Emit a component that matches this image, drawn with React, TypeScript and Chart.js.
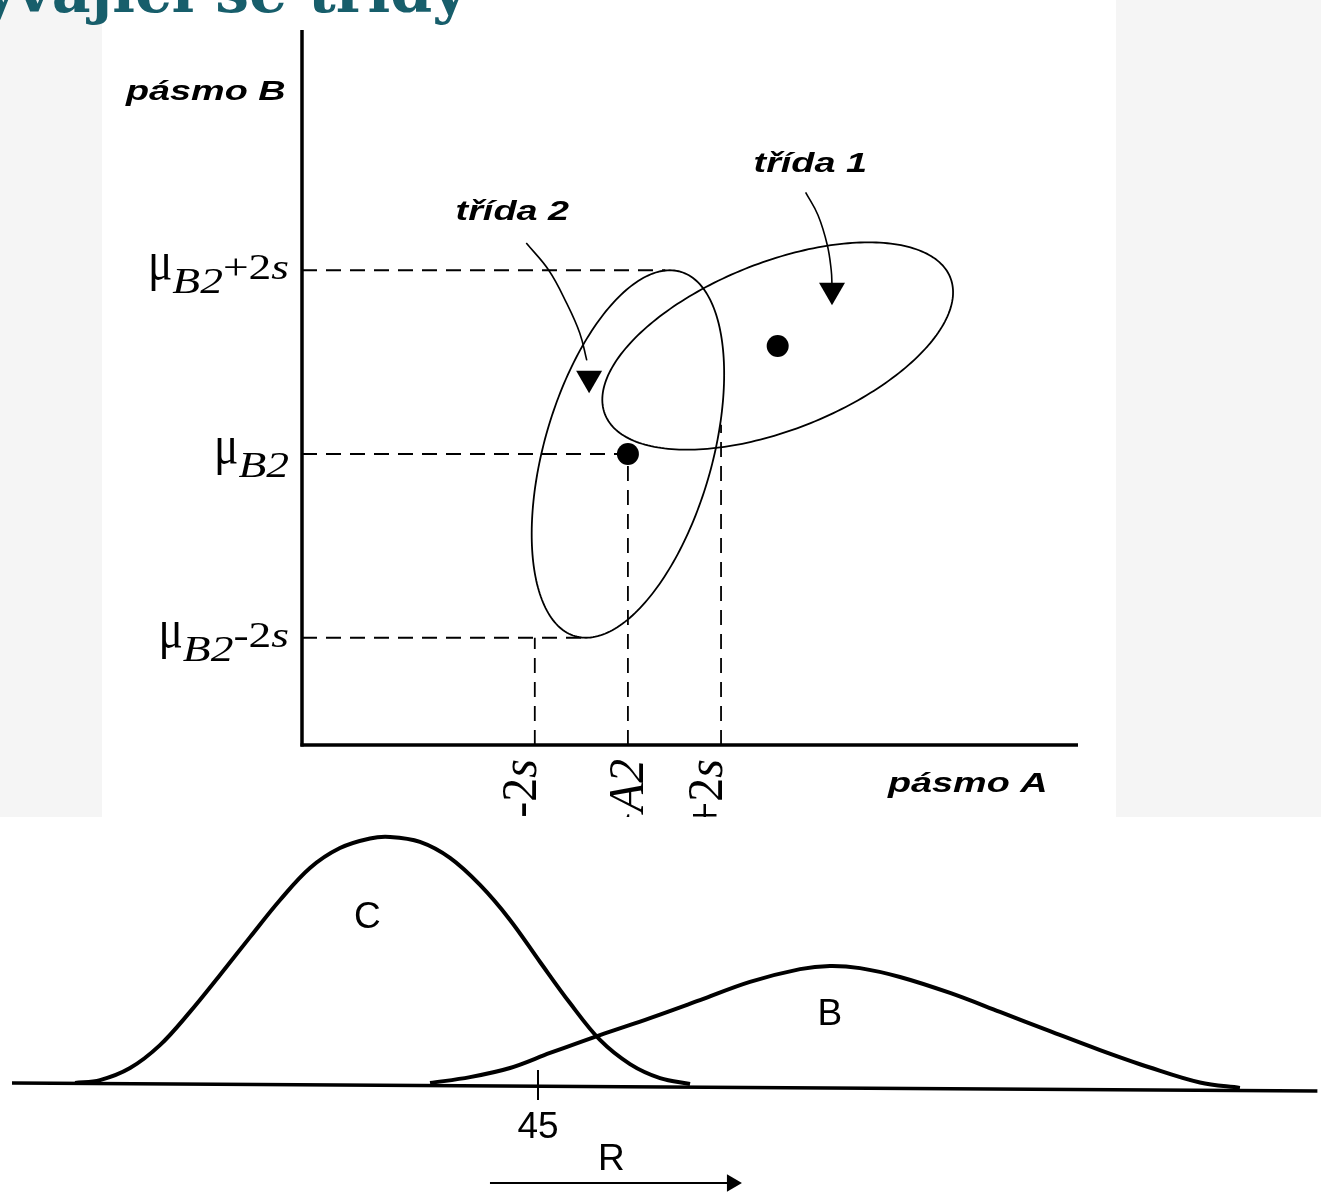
import React, { useEffect, useRef } from "react";
import { Chart, registerables } from "chart.js";

Chart.register(...registerables);

// ================= TEXTS =================
const TITLE = "Překrývající se třídy";
const AXIS_A_LABEL = "pásmo A";
const AXIS_B_LABEL = "pásmo B";
const CLASS_LABELS = ["třída 1", "třída 2"];

// ================= TOP DIAGRAM (feature space, axis units) =================
const AXIS_A_MAX = 100;
const AXIS_B_MAX = 100;

// statistics of class 2
const MU_A2 = 42;
const S_A2 = 6;
const MU_B2 = 40.7;
const S_B2 = 12.85;

// class means: [třída 1, třída 2]
const meanA = [61.3, MU_A2];
const meanB = [55.8, MU_B2];

// ellipse outlines: centre, half-width, half-height, x-shift of the topmost point
const ellipseHalfWidth = [22.6, 12.4];
const ellipseHalfHeight = [14.5, 2 * S_B2];
const ellipseTopShift = [11.7, 5.4];

// guide-line ends (where the dashed lines stop)
const guideEndA = [46.8, MU_A2, 37.1]; // for +2s, mu, -2s of band B
const guideStartB = [MU_B2 - 2 * S_B2, MU_B2, 44.8]; // for -2s, mu, +2s of band A

// label arrows (curve points) and arrow heads
const arrow1A = [64.9, 66.5, 67.7, 68.2, 68.3];
const arrow1B = [77.3, 74.1, 69.9, 66.4, 64.3];
const arrow2A = [28.9, 31.8, 34.1, 35.8, 36.7];
const arrow2B = [70.2, 66.4, 61.8, 57.6, 53.8];
const arrowHeadA = [68.3, 37.0];
const arrowHeadB = [63.6, 51.3];

// label anchors
const classLabelA = [65.5, 27.1];
const classLabelB = [80.1, 73.4];
const axisBLabelPos = [-12.4, 90.2];
const axisALabelPos = [85.8, -6.6];

// ================= BOTTOM DIAGRAM (histograms over R) =================
const R_TICK = 45;
const cR = [6.45, 8.53, 11.03, 13.52, 16.02, 18.52, 21.02, 23.52, 26.01, 28.51, 31.01, 32.68, 35.17, 37.67, 40.17, 42.67, 45.17, 47.66, 50.16, 52.66, 55.16, 57.66];
const cP = [0, 0.012, 0.061, 0.154, 0.289, 0.439, 0.593, 0.744, 0.874, 0.955, 0.994, 1.0, 0.98, 0.915, 0.805, 0.663, 0.492, 0.325, 0.175, 0.077, 0.02, -0.004];
const bR = [36.01, 39.34, 42.67, 46.0, 50.16, 54.33, 58.49, 62.65, 66.82, 69.31, 71.81, 75.14, 79.31, 83.47, 87.63, 91.8, 95.96, 100.12, 103.45];
const bP = [0, 0.024, 0.061, 0.122, 0.195, 0.264, 0.337, 0.411, 0.463, 0.476, 0.467, 0.431, 0.366, 0.289, 0.211, 0.134, 0.063, 0.002, -0.02];
const baselineR = [1.2, 109.9];
const baselineP = [0, -0.0325];
const rArrowR = [41.0, 61.2];
const rArrowP = -0.4065;
const curveLabels = ["C", "B"];
const curveLabelR = [30.8, 69.3];
const curveLabelP = [0.67, 0.276];
const tickLabelP = -0.183;
const rLabelPos = [51.1, -0.313];

// ================= helpers =================
type Seg = { t: string; font: string; dy: number; sy?: number };

function drawRich(ctx: CanvasRenderingContext2D, segs: Seg[], sx: number, sy: number) {
  ctx.save();
  ctx.scale(sx, sy);
  ctx.textAlign = "left";
  ctx.textBaseline = "alphabetic";
  const widths = segs.map((s) => {
    ctx.font = s.font;
    return ctx.measureText(s.t).width;
  });
  let xx = -widths.reduce((a, b) => a + b, 0);
  segs.forEach((s, i) => {
    ctx.font = s.font;
    ctx.save();
    ctx.translate(xx, s.dy / sy);
    if (s.sy) ctx.scale(1, s.sy);
    ctx.fillText(s.t, 0, 0);
    ctx.restore();
    xx += widths[i];
  });
  ctx.restore();
}

function drawStretched(ctx: CanvasRenderingContext2D, text: string, cx: number, base: number, font: string, k: number) {
  ctx.save();
  ctx.translate(cx, base);
  ctx.scale(k, 1);
  ctx.font = font;
  ctx.textAlign = "center";
  ctx.textBaseline = "alphabetic";
  ctx.fillText(text, 0, 0);
  ctx.restore();
}

const SERIF = '"Liberation Serif", "Times New Roman", serif';
const SANS = '"Liberation Sans", Arial, sans-serif';
const STRETCH = 1.35;

function tickSegs(letter: string, op: string, size: number): Seg[] {
  const segs: Seg[] = [
    { t: "μ", font: `${size}px ${SERIF}`, dy: 0, sy: 1.55 },
    { t: letter + "2", font: `italic ${size}px ${SERIF}`, dy: 14 },
  ];
  if (op) {
    segs.push({ t: op + "2", font: `${size}px ${SERIF}`, dy: 0 });
    segs.push({ t: "s", font: `italic ${size}px ${SERIF}`, dy: 0 });
  }
  return segs;
}

const topPlugin = {
  id: "topDecor",
  beforeDatasetsDraw(chart: any) {
    const { ctx } = chart;
    const x = chart.scales.x;
    const y = chart.scales.y;
    ctx.save();
    ctx.strokeStyle = "#000";
    ctx.lineWidth = 1.8;
    for (let i = 0; i < 2; i++) {
      const H = ellipseHalfHeight[i];
      const B = ellipseTopShift[i];
      const A = Math.sqrt(ellipseHalfWidth[i] ** 2 - B * B);
      ctx.beginPath();
      for (let k = 0; k <= 240; k++) {
        const t = (k / 240) * 2 * Math.PI;
        const px = x.getPixelForValue(meanA[i] + A * Math.cos(t) + B * Math.sin(t));
        const py = y.getPixelForValue(meanB[i] + H * Math.sin(t));
        if (k === 0) ctx.moveTo(px, py);
        else ctx.lineTo(px, py);
      }
      ctx.closePath();
      ctx.stroke();
    }
    ctx.restore();
  },
  afterDatasetsDraw(chart: any) {
    const { ctx } = chart;
    const x = chart.scales.x;
    const y = chart.scales.y;
    ctx.save();
    ctx.fillStyle = "#000";
    // y tick labels (band B)
    const yVals = [MU_B2 + 2 * S_B2, MU_B2, MU_B2 - 2 * S_B2];
    const ops = ["+", "", "-"];
    const axX = x.getPixelForValue(0);
    yVals.forEach((v, i) => {
      ctx.save();
      ctx.translate(axX - 13, y.getPixelForValue(v) + 9);
      drawRich(ctx, tickSegs("B", ops[i], 35), 1.3, 1);
      ctx.restore();
    });
    // x tick labels (band A), rotated
    const xVals = [MU_A2 - 2 * S_A2, MU_A2, MU_A2 + 2 * S_A2];
    const xOps = ["-", "", "+"];
    const axY = y.getPixelForValue(0);
    xVals.forEach((v, i) => {
      ctx.save();
      ctx.translate(x.getPixelForValue(v) + 1, axY + 14);
      ctx.rotate(-Math.PI / 2);
      drawRich(ctx, tickSegs("A", xOps[i], 48), 1, 1.05);
      ctx.restore();
    });
    // axis names
    const labFont = `italic bold 28px ${SANS}`;
    drawStretched(ctx, AXIS_B_LABEL, x.getPixelForValue(axisBLabelPos[0]), y.getPixelForValue(axisBLabelPos[1]), labFont, STRETCH);
    drawStretched(ctx, AXIS_A_LABEL, x.getPixelForValue(axisALabelPos[0]), y.getPixelForValue(axisALabelPos[1]), labFont, STRETCH);
    CLASS_LABELS.forEach((t, i) => {
      drawStretched(ctx, t, x.getPixelForValue(classLabelA[i]), y.getPixelForValue(classLabelB[i]), labFont, STRETCH);
    });
    ctx.restore();
  },
};

const bottomPlugin = {
  id: "bottomDecor",
  afterDatasetsDraw(chart: any) {
    const { ctx } = chart;
    const x = chart.scales.x;
    const y = chart.scales.y;
    ctx.save();
    ctx.fillStyle = "#000";
    ctx.font = `37px ${SANS}`;
    ctx.textAlign = "center";
    ctx.textBaseline = "middle";
    curveLabels.forEach((t, i) => ctx.fillText(t, x.getPixelForValue(curveLabelR[i]), y.getPixelForValue(curveLabelP[i])));
    ctx.fillText(String(R_TICK), x.getPixelForValue(R_TICK), y.getPixelForValue(tickLabelP));
    ctx.fillText("R", x.getPixelForValue(rLabelPos[0]), y.getPixelForValue(rLabelPos[1]));
    ctx.restore();
  },
};

const pts = (xs: number[], ys: number[]) => xs.map((v, i) => ({ x: v, y: ys[i] }));

const lineDs = (label: string, data: any[], extra: any = {}) => ({
  label,
  data,
  showLine: true,
  borderColor: "#000",
  backgroundColor: "#000",
  borderWidth: 2,
  pointRadius: 0,
  fill: false,
  ...extra,
});

const baseOptions = (xMin: number, xMax: number, yMin: number, yMax: number) => ({
  animation: false,
  responsive: false,
  events: [],
  layout: { padding: 0, autoPadding: false },
  plugins: { legend: { display: false }, tooltip: { enabled: false }, title: { display: false } },
  scales: {
    x: { type: "linear", display: false, min: xMin, max: xMax },
    y: { type: "linear", display: false, min: yMin, max: yMax },
  },
});

export default function App() {
  const topRef = useRef<HTMLCanvasElement>(null);
  const botRef = useRef<HTMLCanvasElement>(null);

  useEffect(() => {
    const dash = { borderDash: [15, 9], borderWidth: 1.8 };
    const top = new Chart(topRef.current as HTMLCanvasElement, {
      type: "scatter",
      data: {
        datasets: [
          lineDs("osa B", [{ x: 0, y: -0.2 }, { x: 0, y: AXIS_B_MAX }], { borderWidth: 3.5 }),
          lineDs("osa A", [{ x: -0.2, y: 0 }, { x: AXIS_A_MAX, y: 0 }], { borderWidth: 3.5 }),
          lineDs("B2+2s", [{ x: 0, y: MU_B2 + 2 * S_B2 }, { x: guideEndA[0], y: MU_B2 + 2 * S_B2 }], dash),
          lineDs("B2", [{ x: 0, y: MU_B2 }, { x: guideEndA[1], y: MU_B2 }], dash),
          lineDs("B2-2s", [{ x: 0, y: MU_B2 - 2 * S_B2 }, { x: guideEndA[2], y: MU_B2 - 2 * S_B2 }], dash),
          lineDs("A2-2s", [{ x: MU_A2 - 2 * S_A2, y: 0 }, { x: MU_A2 - 2 * S_A2, y: guideStartB[0] }], dash),
          lineDs("A2", [{ x: MU_A2, y: 0 }, { x: MU_A2, y: guideStartB[1] }], dash),
          lineDs("A2+2s", [{ x: MU_A2 + 2 * S_A2, y: 0 }, { x: MU_A2 + 2 * S_A2, y: guideStartB[2] }], dash),
          lineDs("šipka 1", pts(arrow1A, arrow1B), { borderWidth: 1.6, tension: 0.4 }),
          lineDs("šipka 2", pts(arrow2A, arrow2B), { borderWidth: 1.6, tension: 0.4 }),
          {
            label: "hroty",
            data: pts(arrowHeadA, arrowHeadB),
            pointStyle: "triangle",
            rotation: 180,
            pointRadius: 15,
            backgroundColor: "#000",
            borderColor: "#000",
            borderWidth: 0,
          },
          {
            label: "středy",
            data: pts(meanA, meanB),
            pointStyle: "circle",
            pointRadius: 11,
            backgroundColor: "#000",
            borderColor: "#000",
            borderWidth: 0,
          },
        ],
      },
      options: baseOptions(-25.773, 104.897, -10.07, 104.196) as any,
      plugins: [topPlugin],
    } as any);

    const bot = new Chart(botRef.current as HTMLCanvasElement, {
      type: "scatter",
      data: {
        datasets: [
          lineDs("osa R", pts(baselineR, baselineP), { borderWidth: 3.5 }),
          lineDs("C", pts(cR, cP), { borderWidth: 4, tension: 0.35 }),
          lineDs("B", pts(bR, bP), { borderWidth: 4, tension: 0.35 }),
          lineDs("značka 45", [{ x: R_TICK, y: 0.053 }, { x: R_TICK, y: -0.069 }], { borderWidth: 2 }),
          lineDs("směr R", [{ x: rArrowR[0], y: rArrowP }, { x: rArrowR[1], y: rArrowP }], { borderWidth: 2 }),
          {
            label: "hrot R",
            data: [{ x: rArrowR[1] - 0.05, y: rArrowP }],
            pointStyle: "triangle",
            rotation: 90,
            pointRadius: 10,
            backgroundColor: "#000",
            borderColor: "#000",
            borderWidth: 0,
          },
        ],
      },
      options: baseOptions(0.2, 110.2, -0.4593, 1.0813) as any,
      plugins: [bottomPlugin],
    } as any);

    return () => {
      top.destroy();
      bot.destroy();
    };
  }, []);

  return (
    <div
      style={{
        position: "fixed",
        left: 0,
        top: 0,
        width: 1321,
        height: 1196,
        overflow: "hidden",
        background: "#f5f5f5",
      }}
    >
      <div style={{ position: "absolute", left: 102, top: 0, width: 1014, height: 817, background: "#fff" }}>
        <canvas ref={topRef} width={1014} height={817} style={{ display: "block" }} />
      </div>
      <div style={{ position: "absolute", left: 0, top: 817, width: 1321, height: 379, background: "#fff" }}>
        <canvas ref={botRef} width={1321} height={379} style={{ display: "block" }} />
      </div>
      <div
        style={{
          position: "absolute",
          right: 854,
          top: -39,
          font: 'bold 60px "DejaVu Serif", serif',
          lineHeight: "60px",
          color: "#175e6b",
          whiteSpace: "nowrap",
        }}
      >
        {TITLE}
      </div>
    </div>
  );
}
